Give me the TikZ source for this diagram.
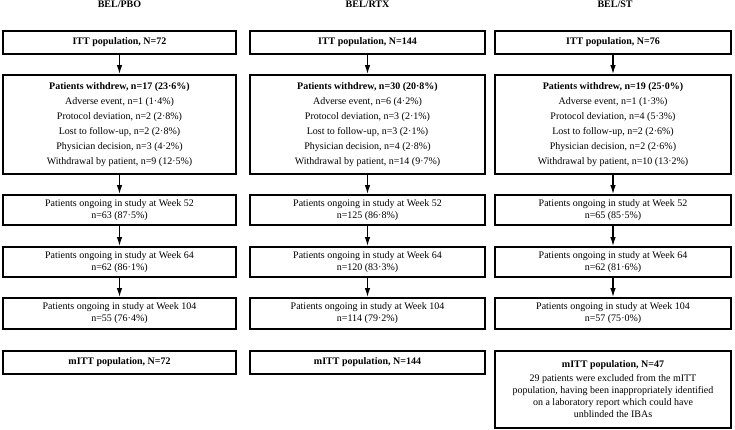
\documentclass[tikz,border=0pt]{standalone}
\usepackage{fontspec}
\setmainfont{Liberation Serif}
\usetikzlibrary{arrows.meta}
\begin{document}
\begin{tikzpicture}[x=1pt,y=-1pt,
  box/.style={draw, line width=1.8pt, rectangle, inner sep=0pt, align=center,
    font=\fontsize{10}{12}\selectfont},
  wbox/.style={box, font=\fontsize{10}{15}\selectfont},
  arr/.style={line width=1.3pt, -{Latex[length=9pt,width=5.5pt]}},
  ttl/.style={font=\fontsize{10}{12}\selectfont\bfseries, anchor=base, inner sep=0pt}]
\useasboundingbox (0,0) rectangle (735,429);

% ---- column 1: BEL/PBO
\node[ttl] (t1) at (119.5,7.5) {BEL/PBO};
\node[box, minimum width=233pt, minimum height=23pt] (itt1) at (119.5,42.5) {\textbf{ITT population, N=72}};
\node[wbox, minimum width=233pt, minimum height=99pt] (wd1) at (119.5,124.5)
  {\textbf{Patients withdrew, n=17 (23·6\%)}\\Adverse event, n=1 (1·4\%)\\Protocol deviation, n=2 (2·8\%)\\Lost to follow-up, n=2 (2·8\%)\\Physician decision, n=3 (4·2\%)\\Withdrawal by patient, n=9 (12·5\%)};
\node[box, minimum width=233pt, minimum height=30pt] (a1) at (119.5,210) {Patients ongoing in study at Week 52\\n=63 (87·5\%)};
\node[box, minimum width=233pt, minimum height=30pt] (b1) at (119.5,262) {Patients ongoing in study at Week 64\\n=62 (86·1\%)};
\node[box, minimum width=233pt, minimum height=31pt] (c1) at (119.5,313.5) {Patients ongoing in study at Week 104\\n=55 (76·4\%)};
\node[box, minimum width=233pt, minimum height=23pt] (m1) at (119.5,362.5) {\textbf{mITT population, N=72}};
\draw[arr] (itt1) -- (wd1);
\draw[arr] (wd1) -- (a1);
\draw[arr] (a1) -- (b1);
\draw[arr] (b1) -- (c1);

% ---- column 2: BEL/RTX
\node[ttl] (t2) at (367.5,7.5) {BEL/RTX};
\node[box, minimum width=235pt, minimum height=23pt] (itt2) at (367.5,42.5) {\textbf{ITT population, N=144}};
\node[wbox, minimum width=235pt, minimum height=99pt] (wd2) at (367.5,124.5)
  {\textbf{Patients withdrew, n=30 (20·8\%)}\\Adverse event, n=6 (4·2\%)\\Protocol deviation, n=3 (2·1\%)\\Lost to follow-up, n=3 (2·1\%)\\Physician decision, n=4 (2·8\%)\\Withdrawal by patient, n=14 (9·7\%)};
\node[box, minimum width=235pt, minimum height=30pt] (a2) at (367.5,210) {Patients ongoing in study at Week 52\\n=125 (86·8\%)};
\node[box, minimum width=235pt, minimum height=30pt] (b2) at (367.5,262) {Patients ongoing in study at Week 64\\n=120 (83·3\%)};
\node[box, minimum width=235pt, minimum height=31pt] (c2) at (367.5,313.5) {Patients ongoing in study at Week 104\\n=114 (79·2\%)};
\node[box, minimum width=235pt, minimum height=23pt] (m2) at (367.5,362.5) {\textbf{mITT population, N=144}};
\draw[arr] (itt2) -- (wd2);
\draw[arr] (wd2) -- (a2);
\draw[arr] (a2) -- (b2);
\draw[arr] (b2) -- (c2);

% ---- column 3: BEL/ST
\node[ttl] (t3) at (615,7.5) {BEL/ST};
\node[box, minimum width=236pt, minimum height=23pt] (itt3) at (613,42.5) {\textbf{ITT population, N=76}};
\node[wbox, minimum width=236pt, minimum height=99pt] (wd3) at (613,124.5)
  {\textbf{Patients withdrew, n=19 (25·0\%)}\\Adverse event, n=1 (1·3\%)\\Protocol deviation, n=4 (5·3\%)\\Lost to follow-up, n=2 (2·6\%)\\Physician decision, n=2 (2·6\%)\\Withdrawal by patient, n=10 (13·2\%)};
\node[box, minimum width=236pt, minimum height=30pt] (a3) at (613,210) {Patients ongoing in study at Week 52\\n=65 (85·5\%)};
\node[box, minimum width=236pt, minimum height=30pt] (b3) at (613,262) {Patients ongoing in study at Week 64\\n=62 (81·6\%)};
\node[box, minimum width=236pt, minimum height=31pt] (c3) at (613,313.5) {Patients ongoing in study at Week 104\\n=57 (75·0\%)};
\node[box, minimum width=236pt, minimum height=77pt] (m3) at (613,389.5)
  {\textbf{mITT population, N=47}\\[2pt]29 patients were excluded from the mITT\\population, having been inappropriately identified\\on a laboratory report which could have\\unblinded the IBAs};
\draw[arr] (itt3) -- (wd3);
\draw[arr] (wd3) -- (a3);
\draw[arr] (a3) -- (b3);
\draw[arr] (b3) -- (c3);
\end{tikzpicture}
\end{document}
